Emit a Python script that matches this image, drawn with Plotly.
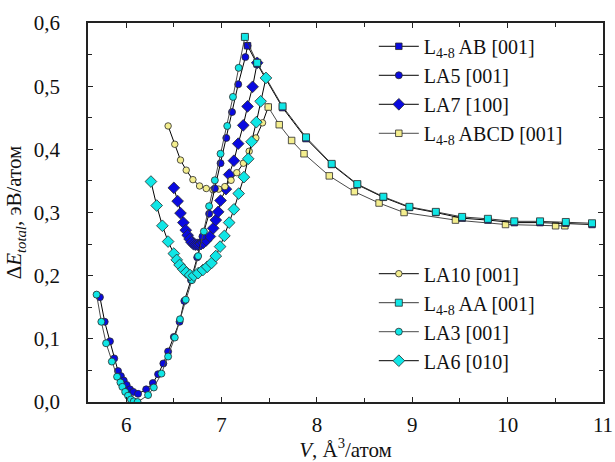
import plotly.graph_objects as go

# ---- data: total energy vs volume for carbon polymorphs ----
la3_v = [5.69, 5.74, 5.79, 5.85, 5.905, 5.94, 5.96, 5.99, 6.02, 6.05, 6.08, 6.12, 6.23, 6.29,
         6.37, 6.44, 6.51, 6.565, 6.625, 6.69, 6.755, 6.815, 6.87, 6.93, 6.99, 7.06, 7.12, 7.18, 7.245]
la3_e = [0.170, 0.127, 0.093, 0.064, 0.040, 0.031, 0.024, 0.016, 0.010, 0.004, 0.001, 0.000, 0.011, 0.023,
         0.045, 0.072, 0.102, 0.131, 0.162, 0.193, 0.231, 0.270, 0.310, 0.351, 0.393, 0.437, 0.483, 0.529, 0.578]

la5_v = [5.725, 5.775, 5.83, 5.875, 5.915, 5.945, 5.975, 6.005, 6.04, 6.075, 6.125, 6.21, 6.28, 6.335,
         6.39, 6.44, 6.50, 6.56, 6.61, 6.68, 6.745, 6.80, 6.87, 6.93, 6.99, 7.05, 7.11, 7.175, 7.25, 7.273]
la5_e = [0.166, 0.127, 0.096, 0.069, 0.049, 0.041, 0.034, 0.027, 0.020, 0.016, 0.013, 0.020, 0.030, 0.044,
         0.061, 0.080, 0.103, 0.127, 0.160, 0.193, 0.229, 0.262, 0.298, 0.338, 0.378, 0.418, 0.459, 0.503, 0.546, 0.564]

la7_v = [6.50, 6.54, 6.57, 6.60, 6.625, 6.645, 6.665, 6.685, 6.705, 6.725, 6.745, 6.765, 6.785, 6.81,
         6.84, 6.878, 6.913, 6.94, 6.965, 6.99, 7.046, 7.08, 7.13, 7.175, 7.228, 7.273, 7.326, 7.374]
la7_e = [0.339, 0.318, 0.299, 0.284, 0.272, 0.264, 0.258, 0.253, 0.250, 0.249, 0.249, 0.249, 0.250, 0.252,
         0.256, 0.262, 0.275, 0.288, 0.301, 0.319, 0.337, 0.360, 0.382, 0.409, 0.438, 0.468, 0.499, 0.537]

la6_v = [6.26, 6.32, 6.38, 6.44, 6.50, 6.53, 6.56, 6.60, 6.63, 6.67, 6.71, 6.755, 6.805, 6.85,
         6.895, 6.94, 6.985, 7.03, 7.08, 7.13, 7.18, 7.235, 7.28, 7.315, 7.365, 7.41, 7.466]
la6_e = [0.349, 0.311, 0.279, 0.254, 0.235, 0.225, 0.217, 0.210, 0.205, 0.201, 0.200, 0.204, 0.209, 0.214,
         0.220, 0.231, 0.246, 0.263, 0.284, 0.305, 0.330, 0.356, 0.385, 0.412, 0.443, 0.476, 0.513]

la10_v = [6.44, 6.51, 6.57, 6.63, 6.70, 6.77, 6.84, 6.91, 6.97, 7.035, 7.10, 7.16, 7.23, 7.29, 7.36, 7.43, 7.49]
la10_e = [0.437, 0.408, 0.383, 0.367, 0.352, 0.342, 0.338, 0.336, 0.337, 0.341, 0.351, 0.363, 0.378, 0.397,
          0.418, 0.442, 0.467]

ab_v = [7.273, 7.374, 7.64, 7.886, 8.155, 8.424, 8.697, 8.97, 9.247, 9.523, 9.793, 10.07, 10.34, 10.61, 10.885]
ab_e = [0.564, 0.535, 0.466, 0.417, 0.376, 0.344, 0.324, 0.308, 0.300, 0.291, 0.288, 0.284, 0.284, 0.283, 0.281]

aa_v = [7.245, 7.374, 7.64, 7.886, 8.155, 8.424, 8.697, 8.97, 9.247, 9.523, 9.793, 10.07, 10.34, 10.61, 10.885]
aa_e = [0.578, 0.537, 0.468, 0.419, 0.377, 0.345, 0.325, 0.309, 0.301, 0.293, 0.290, 0.286, 0.286, 0.285, 0.283]

abcd_v = [7.49, 7.605, 7.735, 7.865, 8.13, 8.393, 8.652, 8.914, 9.453, 9.978, 10.503, 10.60]
abcd_e = [0.467, 0.439, 0.414, 0.393, 0.358, 0.333, 0.315, 0.300, 0.288, 0.281, 0.279, 0.279]

x_ticks = [6, 7, 8, 9, 10, 11]
x_tick_text = ["6", "7", "8", "9", "10", "11"]
y_ticks = [0.0, 0.1, 0.2, 0.3, 0.4, 0.5, 0.6]
y_tick_text = ["0,0", "0,1", "0,2", "0,3", "0,4", "0,5", "0,6"]

BLUE = "#0a0ae0"
CYAN = "#10e6e6"
YELLOW = "#f4ee8e"
EDGE = "#2a2a2a"
FONT = "'Liberation Serif', 'Times New Roman', Times, serif"

fig = go.Figure()


def add(v, e, name, symbol, color, size, line_color, legend, rank):
    fig.add_trace(go.Scatter(
        x=v, y=e, name=name, mode="lines+markers",
        line=dict(color=line_color, width=1),
        marker=dict(symbol=symbol, color=color, size=size, line=dict(color=EDGE, width=0.8)),
        legend=legend, legendrank=rank,
    ))


# drawing order: squares of the layered phases on top
add(la7_v, la7_e, "LA7 [100]", "diamond", BLUE, 9, "#000000", "legend", 3)
add(la10_v, la10_e, "LA10 [001]", "circle", YELLOW, 6.5, "#000000", "legend2", 1)
add(la5_v, la5_e, "LA5 [001]", "circle", BLUE, 7, "#000000", "legend", 2)
add(la3_v, la3_e, "LA3 [001]", "circle", CYAN, 7, "#4a4a4a", "legend2", 3)
add(abcd_v, abcd_e, "L<sub>4-8</sub> ABCD [001]", "square", YELLOW, 6.5, "#4a4a4a", "legend", 4)
add(ab_v, ab_e, "L<sub>4-8</sub> AB [001]", "square", BLUE, 6.5, "#000000", "legend", 1)
add(aa_v, aa_e, "L<sub>4-8</sub> AA [001]", "square", CYAN, 7, "#3a3a3a", "legend2", 2)
add(la6_v, la6_e, "LA6 [010]", "diamond", CYAN, 9, "#000000", "legend2", 4)

axis_common = dict(
    showline=True, linecolor="#222222", linewidth=1.5, mirror="ticks",
    ticks="inside", ticklen=5, tickwidth=1, tickcolor="#222222",
    showgrid=False, zeroline=False, automargin=False,
    tickfont=dict(family=FONT, size=21, color="#111111"),
)

fig.update_xaxes(
    range=[5.6, 11.0], tickmode="array", tickvals=x_ticks, ticktext=x_tick_text,
    minor=dict(dtick=0.5, ticks="inside", ticklen=4, tickcolor="#222222"),
    ticklabelstandoff=3,
    title=dict(text="<i>V</i>, Å<sup>3</sup>/атом", font=dict(family=FONT, size=21, color="#111111"),
               standoff=8),
    **axis_common,
)
fig.update_yaxes(
    range=[0, 0.6], tickmode="array", tickvals=y_ticks, ticktext=y_tick_text,
    minor=dict(dtick=0.05, ticks="inside", ticklen=4, tickcolor="#222222"),
    ticklabelstandoff=22,
    title=dict(text="Δ<i>E</i><sub><i>total</i></sub>, эВ/атом",
               font=dict(family=FONT, size=21, color="#111111"), standoff=6),
    **axis_common,
)

legend_style = dict(
    font=dict(family=FONT, size=20, color="#111111"),
    bgcolor="rgba(0,0,0,0)", borderwidth=0, tracegroupgap=0,
    xanchor="left", yanchor="top", itemwidth=40,
)

fig.update_layout(
    width=615, height=462,
    margin=dict(l=88, r=12, t=23, b=60),
    paper_bgcolor="white", plot_bgcolor="white",
    font=dict(family=FONT),
    showlegend=True,
    legend=dict(x=0.555, y=0.99, **legend_style),
    legend2=dict(x=0.555, y=0.39, **legend_style),
)

fig.write_html("out.html")
